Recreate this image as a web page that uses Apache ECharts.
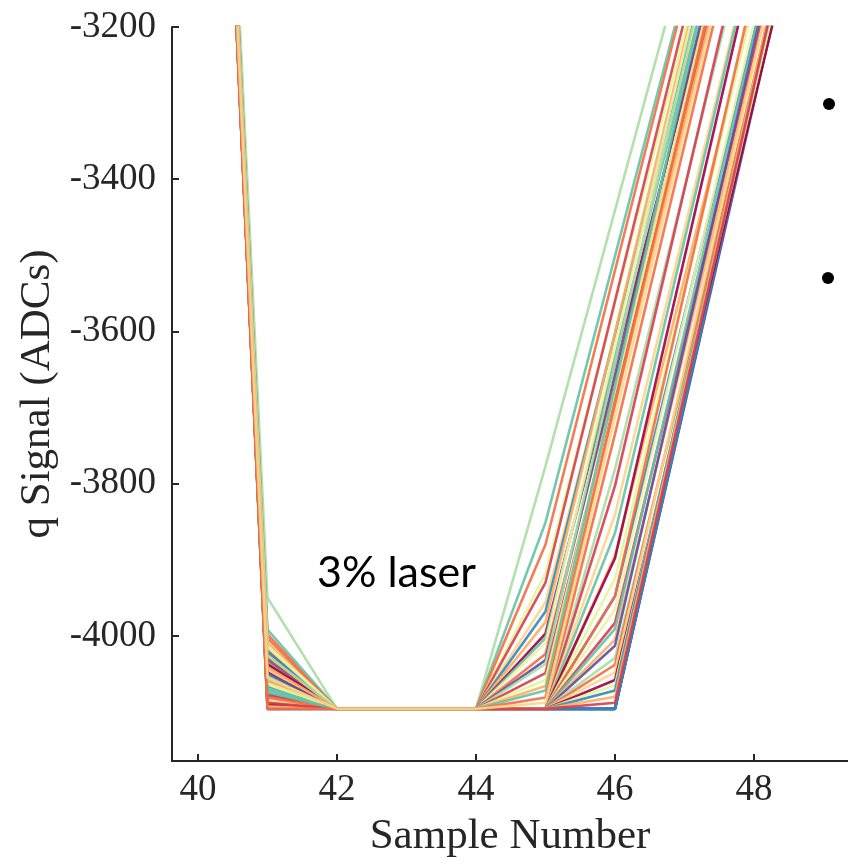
<!DOCTYPE html>
<html>
<head>
<meta charset="utf-8">
<title>q Signal vs Sample Number</title>
<script src="https://cdn.jsdelivr.net/npm/echarts@6/dist/echarts.min.js"></script>
<style>
  html, body { margin: 0; padding: 0; background: #ffffff; }
  #chart { width: 848px; height: 864px; }
</style>
</head>
<body>
<div id="chart"></div>
<script>
// Sample index of each ADC reading
const sampleNumbers = [40, 41, 42, 43, 44, 45, 46, 47, 48, 49];

// Axis ticks
const xTicks = [40, 42, 44, 46, 48];
const yTicks = [-4000, -3800, -3600, -3400, -3200];

// Traces that stay saturated through sample 46
const lateRise = [
  [-2080, -4076, -4096, -4096, -4096, -4096, -4096, -3696, -3296, -2896],
  [-2072, -4042, -4096, -4096, -4096, -4096, -4096, -3691, -3286, -2881],
  [-2088, -4096, -4096, -4096, -4096, -4096, -4096, -3686, -3276, -2866],
  [-2069, -4019, -4096, -4096, -4096, -4096, -4096, -3698, -3300, -2902],
  [-2091, -4087, -4096, -4096, -4096, -4096, -4096, -3694, -3292, -2890]
];

// Traces that leave saturation between samples 45 and 46
const midRise = [
  [-2070, -3998, -4096, -4096, -4096, -4096, -3735, -3355, -2975, -2595],
  [-2092, -4034, -4096, -4096, -4096, -4096, -3781, -3411, -3041, -2671],
  [-2081, -4078, -4096, -4096, -4096, -4096, -3803, -3413, -3023, -2633],
  [-2064, -4008, -4096, -4096, -4096, -4096, -3841, -3466, -3091, -2716],
  [-2097, -4052, -4096, -4096, -4096, -4096, -3865, -3480, -3095, -2710],
  [-2074, -4023, -4096, -4096, -4096, -4096, -3895, -3530, -3165, -2800],
  [-2089, -4090, -4096, -4096, -4096, -4096, -3898, -3503, -3108, -2713],
  [-2069, -4045, -4096, -4096, -4096, -4096, -3925, -3545, -3165, -2785],
  [-2084, -4066, -4096, -4096, -4096, -4096, -3948, -3578, -3208, -2838],
  [-2096, -4017, -4096, -4096, -4096, -4096, -3948, -3548, -3148, -2748],
  [-2073, -4085, -4096, -4096, -4096, -4096, -3965, -3580, -3195, -2810],
  [-2087, -4039, -4096, -4096, -4096, -4096, -3983, -3608, -3233, -2858],
  [-2062, -4071, -4096, -4096, -4096, -4096, -3991, -3601, -3211, -2821],
  [-2093, -4028, -4096, -4096, -4096, -4096, -4005, -3625, -3245, -2865],
  [-2078, -4096, -4096, -4096, -4096, -4096, -4013, -3618, -3223, -2828],
  [-2085, -4057, -4096, -4096, -4096, -4096, -4029, -3659, -3289, -2919],
  [-2071, -4011, -4096, -4096, -4096, -4096, -4038, -3653, -3268, -2883],
  [-2099, -4083, -4096, -4096, -4096, -4096, -4048, -3648, -3248, -2848],
  [-2067, -4047, -4096, -4096, -4096, -4096, -4058, -3678, -3298, -2918],
  [-2090, -4064, -4096, -4096, -4096, -4096, -4065, -3675, -3285, -2895],
  [-2076, -4032, -4096, -4096, -4096, -4096, -4072, -3672, -3272, -2872],
  [-2082, -4093, -4096, -4096, -4096, -4096, -4080, -3675, -3270, -2865],
  [-2095, -4060, -4096, -4096, -4096, -4096, -4088, -3683, -3278, -2873]
];

// Traces that leave saturation between samples 44 and 45
const earlyRise = [
  [-2060, -3950, -4096, -4096, -4096, -3777, -3441, -3105, -2769, -2433],
  [-2085, -3992, -4096, -4096, -4096, -3851, -3501, -3151, -2801, -2451],
  [-2070, -4003, -4096, -4096, -4096, -3880, -3520, -3160, -2800, -2440],
  [-2095, -4012, -4096, -4096, -4096, -3918, -3563, -3208, -2853, -2498],
  [-2080, -4030, -4096, -4096, -4096, -3930, -3560, -3190, -2820, -2450],
  [-2090, -4044, -4096, -4096, -4096, -3956, -3606, -3256, -2906, -2556],
  [-2065, -4021, -4096, -4096, -4096, -3968, -3603, -3238, -2873, -2508],
  [-2100, -4058, -4096, -4096, -4096, -3982, -3602, -3222, -2842, -2462],
  [-2075, -4037, -4096, -4096, -4096, -3997, -3642, -3287, -2932, -2577],
  [-2088, -4069, -4096, -4096, -4096, -4003, -3633, -3263, -2893, -2523],
  [-2072, -4015, -4096, -4096, -4096, -4010, -3620, -3230, -2840, -2450],
  [-2094, -4081, -4096, -4096, -4096, -4024, -3664, -3304, -2944, -2584],
  [-2068, -4049, -4096, -4096, -4096, -4032, -3657, -3282, -2907, -2532],
  [-2083, -4026, -4096, -4096, -4096, -4037, -3642, -3247, -2852, -2457],
  [-2098, -4088, -4096, -4096, -4096, -4049, -3684, -3319, -2954, -2589],
  [-2077, -4062, -4096, -4096, -4096, -4058, -3678, -3298, -2918, -2538],
  [-2091, -4041, -4096, -4096, -4096, -4066, -3696, -3326, -2956, -2586],
  [-2066, -4074, -4096, -4096, -4096, -4072, -3672, -3272, -2872, -2472],
  [-2086, -4096, -4096, -4096, -4096, -4081, -3696, -3311, -2926, -2541],
  [-2079, -4055, -4096, -4096, -4096, -4088, -3713, -3338, -2963, -2588]
];

// Spectral colour map used for the traces
const spectral = ['#9e0142', '#d53e4f', '#f46d43', '#fdae61', '#fdd58a', '#f2f0a6',
                  '#e6f598', '#abdda4', '#66c2a5', '#3288bd', '#5e4fa2'];
const colourOrder = [
  9, 10, 9, 10, 9,
  2, 7, 1, 4, 8, 3, 0, 6, 9, 2, 5, 1, 8, 3, 10, 7, 2, 4, 0, 6, 9, 3, 1,
  7, 8, 2, 6, 1, 4, 9, 3, 0, 8, 5, 2, 10, 7, 1, 6, 3, 8, 2, 4
];

const traces = [...lateRise, ...midRise, ...earlyRise];

const axisColour = '#262626';
const serifFont = '"Liberation Serif", "DejaVu Serif", serif';

const series = traces.map((trace, i) => ({
  type: 'line',
  data: sampleNumbers.map((x, j) => [x, trace[j]]),
  symbol: 'none',
  clip: true,
  silent: true,
  lineStyle: { width: 2.6, color: spectral[colourOrder[i % colourOrder.length]], opacity: 0.9 },
  z: 2
}));

const chart = echarts.init(document.getElementById('chart'), null, { renderer: 'canvas' });

chart.setOption({
  animation: false,
  backgroundColor: '#ffffff',
  grid: { left: 172, right: 0, top: 27, bottom: 103, containLabel: false, outerBoundsMode: 'none' },
  xAxis: {
    type: 'value',
    min: 39.626,
    max: 49.353,
    name: 'Sample Number',
    nameLocation: 'middle',
    nameGap: 54,
    nameTextStyle: { fontFamily: serifFont, fontSize: 43, color: axisColour },
    axisLine: { show: true, onZero: false, lineStyle: { color: axisColour, width: 2 } },
    axisTick: { show: true, inside: true, length: 7, customValues: xTicks, lineStyle: { color: axisColour, width: 2 } },
    axisLabel: { customValues: xTicks, margin: 11, fontFamily: serifFont, fontSize: 37, color: axisColour,
                 formatter: v => String(v) },
    splitLine: { show: false }
  },
  yAxis: {
    type: 'value',
    min: -4164.5,
    max: -3200,
    name: 'q Signal (ADCs)',
    nameLocation: 'middle',
    nameGap: 101,
    nameTextStyle: { fontFamily: serifFont, fontSize: 43, color: axisColour },
    axisLine: { show: true, onZero: false, lineStyle: { color: axisColour, width: 2 } },
    axisTick: { show: true, inside: true, length: 7, customValues: yTicks, lineStyle: { color: axisColour, width: 2 } },
    axisLabel: { customValues: yTicks, margin: 16, fontFamily: serifFont, fontSize: 37, color: axisColour,
                 formatter: v => String(v) },
    splitLine: { show: false }
  },
  graphic: [
    {
      type: 'text',
      left: 317,
      top: 552,
      style: { text: '3% laser', font: '43px Lato, "Open Sans", sans-serif', fill: '#000000' },
      z: 10
    },
    { type: 'circle', shape: { cx: 829, cy: 104, r: 6 }, style: { fill: '#000000' } },
    { type: 'circle', shape: { cx: 828, cy: 278, r: 6 }, style: { fill: '#000000' } }
  ],
  series: series
});
</script>
</body>
</html>
